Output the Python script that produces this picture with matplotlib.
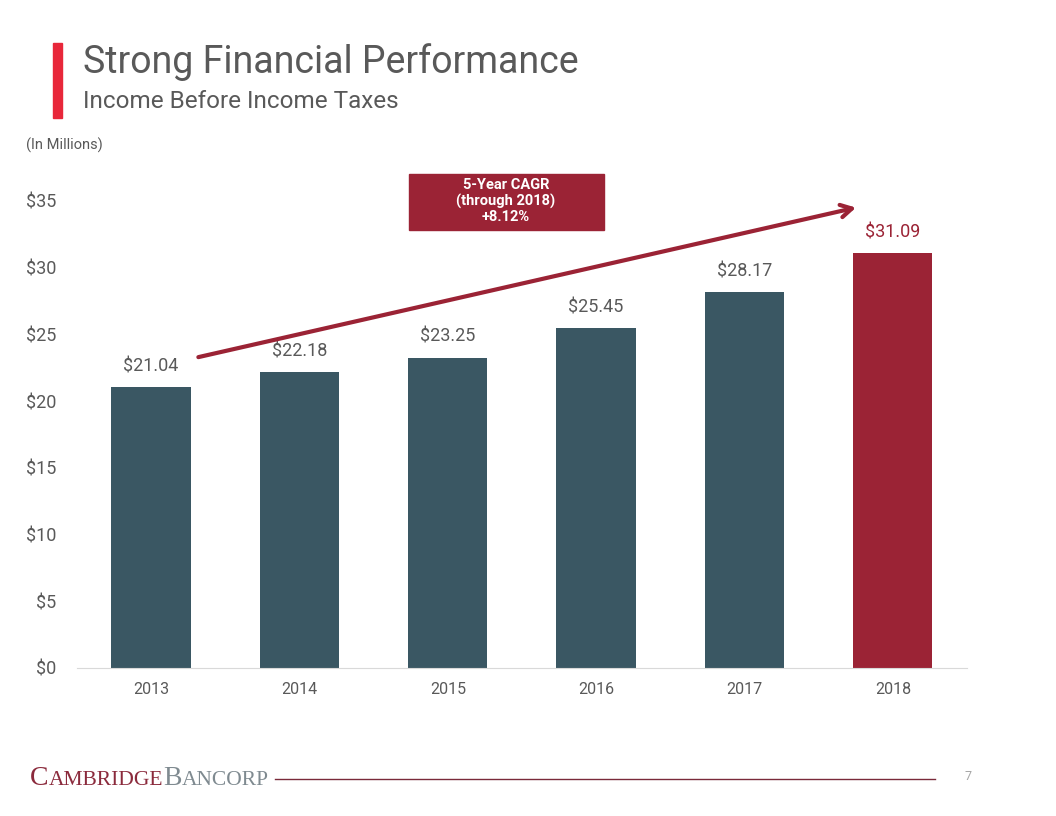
import matplotlib
matplotlib.use("Agg")
import matplotlib.pyplot as plt
from matplotlib.patches import Rectangle

years = ["2013", "2014", "2015", "2016", "2017", "2018"]
income = [21.04, 22.18, 23.25, 25.45, 28.17, 31.09]
yticks = [0, 5, 10, 15, 20, 25, 30, 35]

TEAL = "#3a5763"
RED = "#9b2335"
GRAY = "#595959"

plt.rcParams["font.family"] = ["Roboto", "DejaVu Sans"]

fig = plt.figure(figsize=(10.56, 8.16), dpi=100)
ax = fig.add_axes([0.0729, 0.1814, 0.8428, 0.5723])

colors = [TEAL] * (len(years) - 1) + [RED]
x = list(range(len(years)))
ax.bar(x, income, width=0.535, color=colors, zorder=2)
for xi, v, c in zip(x, income, colors):
    ax.text(xi, v + 0.9, f"${v:.2f}", ha="center", va="bottom",
            fontsize=13, color=RED if c == RED else GRAY)

ax.set_xlim(-0.5, 5.5)
ax.set_ylim(0, 35)
ax.set_xticks(x)
ax.set_xticklabels(years, fontsize=11.5, color=GRAY)
ax.set_yticks(yticks)
ax.set_yticklabels([f"${t}" for t in yticks], fontsize=13, color=GRAY)
ax.tick_params(length=0)
ax.tick_params(axis="x", pad=10)
ax.tick_params(axis="y", pad=15)
for s in ["top", "right", "left"]:
    ax.spines[s].set_visible(False)
ax.spines["bottom"].set_color("#d9d9d9")

# CAGR arrow
ax.annotate("", xy=(4.77, 34.55), xytext=(0.30, 23.25),
            arrowprops=dict(arrowstyle="->,head_length=0.8,head_width=0.45",
                            color=RED, lw=3),
            annotation_clip=False, zorder=3)

# CAGR box
fig.patches.append(Rectangle((409 / 1056, 1 - 230 / 816), 195 / 1056, 56 / 816,
                             transform=fig.transFigure, color=RED, zorder=1))
fig.text(506 / 1056, 1 - 201 / 816, "5-Year CAGR\n(through 2018)\n+8.12%",
         ha="center", va="center", fontsize=10.5, color="white",
         fontweight="bold", linespacing=1.1)

# Header
fig.patches.append(Rectangle((53 / 1056, 1 - 118 / 816), 9 / 1056, 75 / 816,
                             transform=fig.transFigure, color="#e8273a"))
fig.text(83 / 1056, 1 - 62 / 816, "Strong Financial Performance",
         fontsize=27, color=GRAY, va="center", ha="left")
fig.text(83 / 1056, 1 - 101 / 816, "Income Before Income Taxes",
         fontsize=17.5, color=GRAY, va="center", ha="left")
fig.text(26 / 1056, 1 - 145 / 816, "(In Millions)",
         fontsize=10.5, color=GRAY, va="center", ha="left")

# Footer
fig.add_artist(plt.Line2D([275 / 1056, 935 / 1056], [1 - 779 / 816, 1 - 779 / 816],
                          color="#7a2a3a", lw=1, transform=fig.transFigure))
fig.text(968 / 1056, 1 - 777 / 816, "7", fontsize=9, color="#a6a6a6",
         ha="center", va="center")

renderer = fig.canvas.get_renderer()
xpos = 30 / 1056
base = 1 - 785 / 816
for txt, size, col in [("C", 20, "#8b2a3c"), ("AMBRIDGE", 15.5, "#8b2a3c"),
                       ("B", 20, "#7f8a90"), ("ANCORP", 15.5, "#7f8a90")]:
    t = fig.text(xpos, base, txt, fontsize=size, color=col,
                 family="Liberation Serif", va="baseline", ha="left")
    bb = t.get_window_extent(renderer=renderer)
    xpos += bb.width / 1056

fig.savefig("out.png", dpi=100)
